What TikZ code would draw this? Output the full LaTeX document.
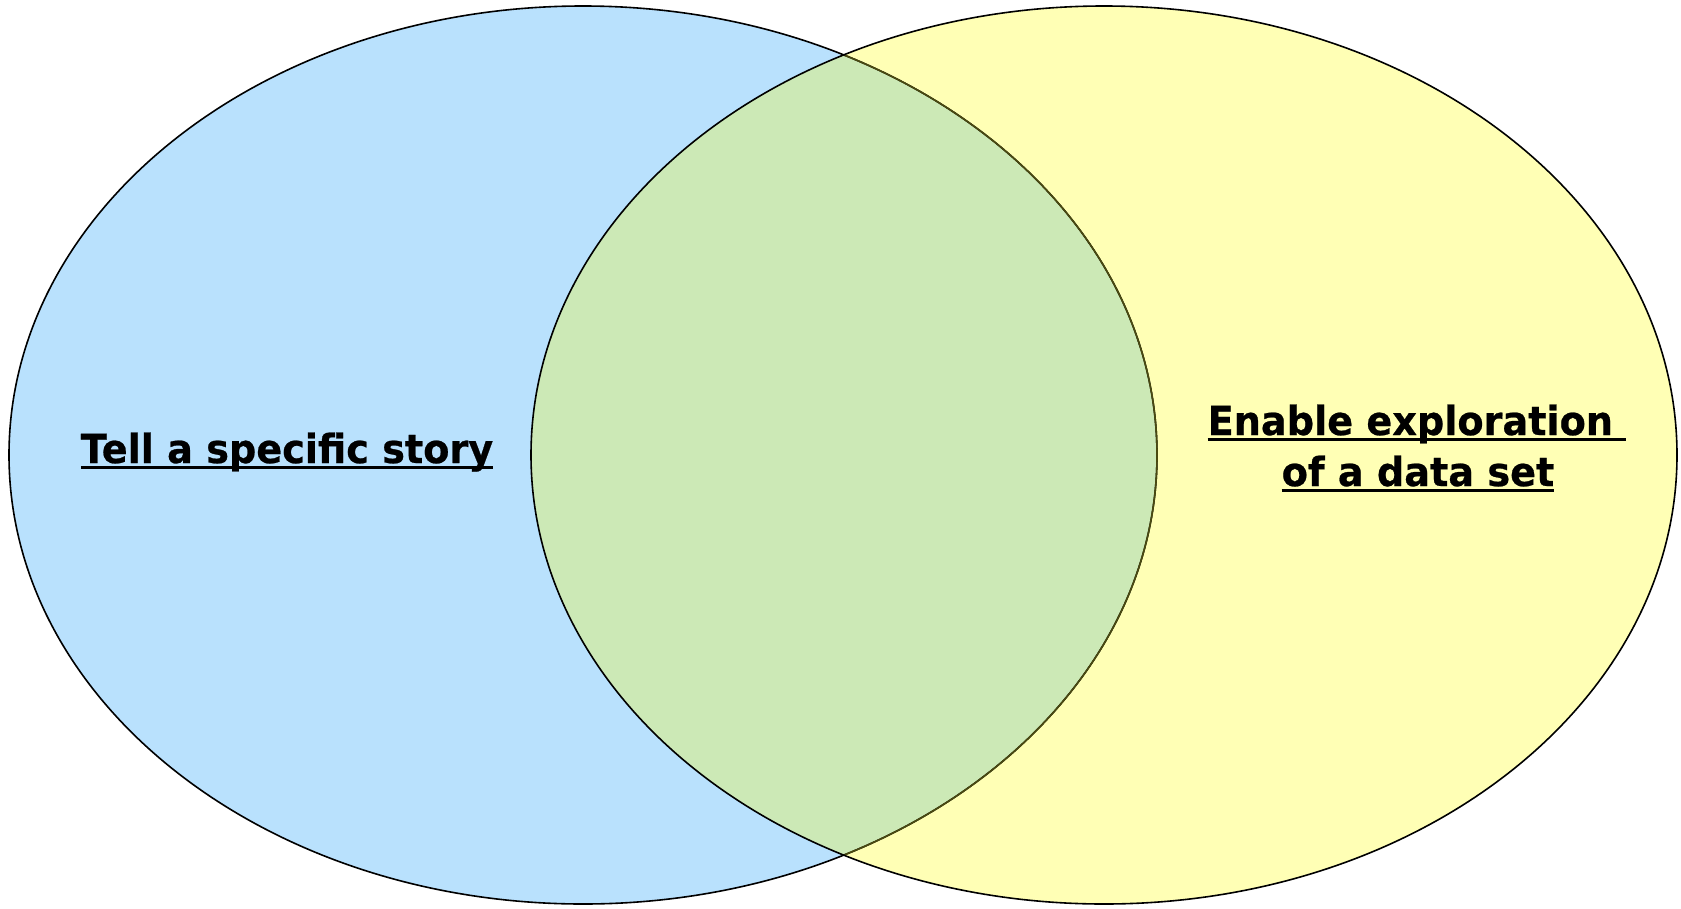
\documentclass[tikz,border=0pt]{standalone}
\usepackage{graphicx}
\usepackage{fontspec}
\setmainfont{DejaVu Sans}[BoldFeatures={FakeBold=0.6}]
\definecolor{lblue}{HTML}{B9E1FD}
\definecolor{lyellow}{HTML}{FFFFB5}
\definecolor{lgreen}{HTML}{CCE9B6}
\definecolor{olive}{HTML}{4A4A10}
\newcommand{\myul}[1]{\scalebox{0.955}[1]{\setbox0\hbox{#1}\rlap{\vrule height -2.5pt depth 5.5pt width \wd0}\box0}}
\tikzset{
  lbl/.style={font=\bfseries\fontsize{40}{47}\selectfont, align=center, inner sep=0pt, text=black},
  rim/.style={draw=black, line width=1.6pt}
}
\begin{document}
\begin{tikzpicture}[x=1pt,y=-1pt]
\useasboundingbox (0,0) rectangle (1681,908);
\fill[white] (0,0) rectangle (1681,908);
\fill[lblue] (583,455) ellipse [x radius=574, y radius=449];
\fill[lyellow] (1104,455) ellipse [x radius=573, y radius=449];
\begin{scope}
\clip (583,455) ellipse [x radius=574, y radius=449];
\fill[lgreen] (1104,455) ellipse [x radius=573, y radius=449];
\end{scope}
\draw[rim] (583,455) ellipse [x radius=574, y radius=449];
\draw[rim] (1104,455) ellipse [x radius=573, y radius=449];
\begin{scope}
\clip (1104,455) ellipse [x radius=572, y radius=448];
\draw[line width=1.6pt, draw=olive] (583,455) ellipse [x radius=574, y radius=449];
\end{scope}
\node[lbl, anchor=base] (left) at (287,463) {\myul{Tell a specific story}};
\node[lbl, anchor=base] (r1) at (1417,435) {\myul{Enable exploration\ }};
\node[lbl, anchor=base] (r2) at (1418,486) {\myul{of a data set}};
\end{tikzpicture}
\end{document}
